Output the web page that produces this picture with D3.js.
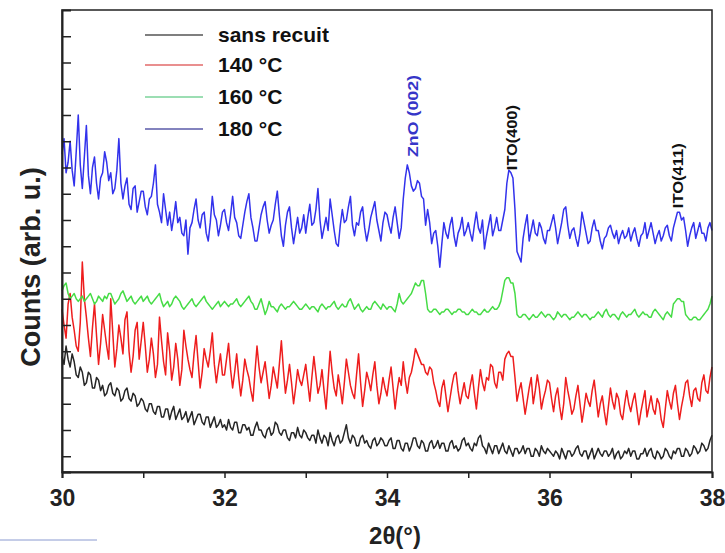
<!DOCTYPE html>
<html>
<head>
<meta charset="utf-8">
<script src="https://cdn.jsdelivr.net/npm/d3@7"></script>
<style>
  html, body { margin: 0; padding: 0; background: #fff; }
  svg { display: block; }
  text { font-family: "Liberation Sans", Arial, sans-serif; }
</style>
</head>
<body>
<svg id="chart" width="725" height="553"></svg>
<script>
// ---- data (2θ sampled every 0.025°, 30° .. 38°) ----
const xTicks = [30, 31, 32, 33, 34, 35, 36, 37, 38];
const xTickLabels = ["30", "", "32", "", "34", "", "36", "", "38"];
const yTicks = [10, 20, 30, 40, 50, 60, 70, 80, 90, 100, 110, 120, 130, 140, 150, 160, 170];
const seriesNames = ["sans recuit", "140 °C", "160 °C", "180 °C"];
const seriesColors = ["#262626", "#ee1d1d", "#46dc46", "#3232ec"];
const legendColors = ["#555555", "#e26a6a", "#7bd39a", "#5a5aa8"];

const countsSansRecuit = [
  48, 45, 52, 47, 44, 49, 46, 41, 40, 44, 42, 37, 38, 42, 41, 36, 36, 40, 39, 35,
  37, 33, 34, 37, 38, 34, 33, 36, 35, 31, 32, 35, 36, 32, 31, 34, 33, 29, 30, 32,
  31, 28, 27, 30, 30, 27, 26, 29, 29, 25, 25, 28, 28, 24, 27, 29, 24, 26, 28, 24,
  25, 27, 23, 25, 27, 22, 24, 26, 26, 23, 22, 25, 25, 21, 23, 25, 21, 22, 24, 21,
  22, 20, 24, 21, 20, 23, 23, 19, 19, 22, 22, 20, 21, 18, 18, 21, 23, 20, 20, 18,
  17, 20, 21, 18, 19, 23, 22, 19, 18, 20, 20, 17, 16, 19, 19, 17, 21, 18, 17, 20,
  19, 17, 16, 18, 18, 15, 20, 17, 15, 18, 17, 14, 19, 16, 14, 17, 18, 15, 16, 19,
  22, 17, 15, 18, 17, 14, 14, 17, 18, 15, 16, 14, 13, 16, 17, 14, 15, 17, 16, 14,
  14, 16, 17, 13, 13, 16, 16, 13, 12, 15, 15, 12, 14, 17, 17, 14, 13, 16, 15, 12,
  12, 15, 16, 13, 14, 16, 13, 15, 15, 12, 12, 15, 16, 13, 14, 12, 13, 16, 17, 14,
  15, 13, 12, 15, 14, 17, 18, 14, 13, 11, 15, 13, 11, 14, 14, 11, 13, 15, 12, 11,
  14, 12, 10, 13, 13, 11, 12, 14, 11, 13, 13, 10, 10, 13, 12, 10, 14, 12, 11, 13,
  12, 11, 10, 12, 11, 9, 13, 11, 9, 12, 12, 10, 11, 13, 14, 11, 10, 12, 12, 9,
  11, 13, 9, 11, 13, 11, 10, 12, 12, 10, 11, 13, 9, 11, 12, 9, 10, 12, 11, 13,
  10, 12, 12, 9, 9, 11, 11, 13, 10, 12, 13, 10, 9, 12, 11, 9, 10, 13, 12, 10,
  9, 12, 11, 13, 13, 10, 10, 13, 12, 10, 11, 14, 13, 11, 12, 15, 14, 12, 13, 16,
  18
];
const counts140 = [
  66, 60, 55, 68, 72, 63, 58, 52, 50, 61, 84, 70, 63, 55, 48, 59, 68, 56, 45, 53,
  64, 58, 52, 47, 70, 57, 44, 51, 60, 55, 49, 62, 65, 50, 42, 48, 58, 61, 47, 54,
  61, 52, 42, 47, 55, 49, 40, 45, 63, 54, 46, 41, 57, 50, 39, 44, 53, 47, 37, 43,
  58, 52, 47, 43, 40, 49, 56, 46, 36, 42, 51, 47, 44, 50, 57, 45, 38, 44, 49, 41,
  41, 47, 53, 43, 36, 42, 49, 40, 33, 39, 47, 43, 40, 35, 31, 42, 52, 44, 38, 42,
  46, 39, 32, 37, 44, 40, 36, 45, 54, 43, 34, 39, 45, 38, 30, 36, 43, 39, 37, 41,
  45, 38, 31, 40, 48, 41, 34, 37, 43, 35, 28, 39, 50, 42, 36, 33, 41, 36, 30, 38,
  47, 42, 37, 34, 32, 41, 49, 38, 29, 35, 42, 39, 35, 41, 46, 37, 30, 34, 40, 36,
  33, 39, 44, 36, 28, 35, 40, 37, 46, 39, 34, 40, 42, 46, 51, 49, 47, 45, 45, 42,
  41, 44, 43, 38, 35, 31, 29, 36, 39, 33, 27, 32, 37, 41, 42, 35, 30, 34, 38, 33,
  32, 37, 41, 34, 28, 36, 43, 38, 35, 40, 39, 45, 44, 38, 36, 42, 42, 39, 47, 49,
  50, 48, 48, 40, 31, 35, 38, 32, 26, 31, 36, 40, 30, 35, 41, 36, 28, 32, 35, 39,
  38, 32, 27, 33, 36, 29, 24, 30, 40, 35, 31, 26, 28, 33, 37, 30, 23, 28, 34, 31,
  29, 35, 39, 32, 25, 30, 33, 27, 22, 29, 36, 31, 28, 34, 32, 26, 24, 30, 35, 30,
  27, 31, 34, 28, 22, 27, 31, 35, 25, 29, 33, 28, 26, 32, 30, 24, 21, 28, 35, 31,
  28, 34, 37, 30, 24, 29, 33, 38, 39, 33, 29, 35, 36, 32, 31, 38, 41, 35, 34, 40,
  44
];
const counts160 = [
  73, 75, 76, 72, 70, 71, 72, 70, 69, 70, 71, 69, 70, 71, 72, 70, 68, 69, 71, 70,
  69, 71, 70, 72, 72, 70, 68, 69, 70, 72, 73, 71, 69, 70, 71, 69, 68, 69, 70, 71,
  69, 70, 71, 69, 68, 69, 70, 71, 72, 69, 67, 68, 69, 67, 68, 70, 71, 70, 69, 67,
  66, 67, 68, 69, 70, 68, 67, 68, 69, 70, 71, 69, 68, 67, 66, 67, 68, 69, 67, 68,
  69, 68, 67, 68, 68, 69, 70, 68, 67, 68, 69, 70, 71, 69, 68, 66, 66, 68, 70, 67,
  64, 66, 69, 67, 67, 66, 65, 67, 68, 67, 66, 67, 67, 68, 69, 68, 67, 66, 66, 67,
  68, 67, 66, 67, 67, 66, 65, 67, 68, 67, 66, 67, 67, 68, 69, 67, 66, 67, 68, 67,
  67, 69, 70, 68, 66, 67, 68, 66, 65, 66, 67, 66, 66, 68, 69, 68, 67, 66, 68, 67,
  66, 67, 67, 66, 65, 68, 72, 69, 68, 69, 70, 71, 72, 74, 76, 75, 75, 77, 77, 72,
  66, 65, 65, 66, 66, 65, 64, 65, 65, 66, 66, 65, 64, 65, 65, 66, 66, 65, 65, 64,
  64, 65, 66, 65, 65, 64, 64, 65, 66, 65, 65, 66, 67, 66, 66, 67, 69, 73, 77, 78,
  78, 76, 76, 72, 64, 63, 63, 64, 64, 63, 62, 63, 64, 63, 63, 64, 65, 64, 63, 64,
  64, 63, 62, 63, 65, 64, 63, 64, 64, 63, 62, 63, 63, 64, 65, 64, 63, 64, 64, 63,
  62, 63, 63, 64, 65, 64, 63, 65, 66, 64, 63, 64, 64, 63, 62, 64, 65, 64, 63, 64,
  64, 65, 66, 64, 63, 64, 65, 64, 64, 63, 63, 65, 66, 65, 64, 63, 62, 64, 65, 64,
  63, 68, 69, 70, 70, 69, 69, 64, 63, 62, 62, 63, 63, 62, 62, 63, 64, 65, 66, 68,
  71
];
const counts180 = [
  125, 131, 118, 122, 130, 119, 113, 126, 140, 121, 112, 124, 136, 117, 110, 120, 124, 114, 108, 116,
  118, 126, 122, 115, 118, 110, 112, 119, 131, 114, 108, 113, 116, 106, 104, 112, 113, 103, 107, 111,
  111, 105, 102, 108, 109, 114, 121, 106, 103, 99, 110, 104, 98, 103, 96, 101, 107, 99, 101, 95,
  94, 100, 87, 97, 99, 104, 108, 100, 97, 102, 103, 95, 92, 99, 109, 102, 100, 94, 98, 103,
  104, 99, 96, 102, 109, 101, 99, 94, 93, 98, 103, 107, 110, 101, 97, 92, 92, 97, 102, 105,
  107, 100, 95, 98, 100, 106, 111, 102, 94, 90, 98, 103, 105, 97, 91, 96, 101, 95, 97, 102,
  95, 101, 106, 98, 99, 104, 112, 100, 93, 97, 101, 96, 108, 102, 96, 91, 90, 98, 104, 99,
  100, 105, 109, 98, 94, 99, 98, 103, 105, 97, 92, 96, 101, 104, 107, 100, 96, 92, 99, 103,
  102, 98, 95, 101, 105, 99, 93, 97, 108, 116, 121, 118, 113, 111, 112, 115, 114, 109, 108, 98,
  104, 99, 91, 95, 96, 90, 82, 91, 99, 95, 93, 98, 101, 94, 90, 95, 97, 101, 94, 96,
  99, 95, 92, 98, 103, 97, 95, 100, 89, 94, 98, 102, 94, 97, 101, 96, 96, 100, 104, 114,
  119, 118, 116, 104, 88, 86, 84, 93, 98, 102, 92, 96, 100, 95, 94, 99, 97, 93, 91, 96,
  96, 99, 102, 97, 91, 95, 99, 104, 105, 98, 93, 96, 97, 93, 90, 95, 103, 99, 95, 91,
  92, 97, 100, 96, 96, 92, 89, 93, 94, 97, 98, 95, 93, 96, 91, 94, 96, 93, 94, 97,
  92, 95, 97, 93, 90, 94, 95, 99, 93, 96, 99, 95, 91, 94, 96, 92, 94, 97, 98, 94,
  92, 97, 100, 103, 103, 100, 101, 96, 90, 94, 97, 99, 93, 96, 99, 95, 95, 92, 97, 99,
  96
];
const allSeries = [countsSansRecuit, counts140, counts160, counts180];
const twoTheta = d3.range(counts180.length).map(i => 30 + i * 0.025);

const peakLabels = ["ZnO (002)", "ITO(400)", "ITO(411)"];
const peakPositions = [34.37, 35.52, 37.62];
const peakLabelBase = [124, 119, 104.5];
const peakLabelShift = [1, 6, 2];
const peakLabelLength = [82, 65, 65];
const peakLabelColors = ["#3636c8", "#111111", "#111111"];

// ---- layout ----
const svg = d3.select("#chart");
const L = 62, R = 712, T = 10, B = 472;
const x = d3.scaleLinear().domain([30, 38]).range([L, R]);
const y = d3.scaleLinear().domain([4, 180]).range([B, T]);

// series lines
const line = d3.line().x((d, i) => x(twoTheta[i])).y(d => y(d));
allSeries.forEach((s, k) => {
  svg.append("path")
    .datum(s)
    .attr("fill", "none")
    .attr("stroke", seriesColors[k])
    .attr("stroke-width", 1.5)
    .attr("stroke-linejoin", "round")
    .attr("d", line);
});

// frame
svg.append("rect").attr("x", L).attr("y", T).attr("width", R - L).attr("height", B - T)
  .attr("fill", "none").attr("stroke", "#222").attr("stroke-width", 1.5);

// x axis
const xAxis = d3.axisBottom(x).tickValues(xTicks)
  .tickFormat((d, i) => xTickLabels[i]).tickSize(6).tickPadding(12);
const gx = svg.append("g").attr("transform", `translate(0,${B})`).call(xAxis);
gx.select(".domain").attr("stroke", "#222").attr("stroke-width", 2);
gx.selectAll(".tick line").attr("stroke", "#222").attr("stroke-width", 1.5);
gx.selectAll(".tick text").attr("font-size", 23).attr("font-weight", "bold")
  .attr("fill", "#222").attr("font-family", "Liberation Sans, Arial, sans-serif");

// y axis (inward ticks, no labels)
const yAxis = d3.axisLeft(y).tickValues(yTicks).tickFormat("").tickSize(-9);
const gy = svg.append("g").attr("transform", `translate(${L},0)`).call(yAxis);
gy.select(".domain").attr("stroke", "#222").attr("stroke-width", 2);
gy.selectAll(".tick line").attr("stroke", "#222").attr("stroke-width", 1.5);

// axis titles
svg.append("text").attr("x", 395).attr("y", 544).attr("text-anchor", "middle")
  .attr("font-size", 24).attr("font-weight", "bold").attr("fill", "#222")
  .text("2θ(°)");
svg.append("text").attr("transform", "translate(40,267) rotate(-90)")
  .attr("text-anchor", "middle").attr("font-size", 27).attr("font-weight", "bold")
  .attr("fill", "#222").text("Counts (arb. u.)");

// legend
const legendRows = [35, 65, 97, 129];
seriesNames.forEach((n, k) => {
  svg.append("line").attr("x1", 145).attr("x2", 203)
    .attr("y1", legendRows[k]).attr("y2", legendRows[k])
    .attr("stroke", legendColors[k]).attr("stroke-width", 1.5);
  svg.append("text").attr("x", 218).attr("y", legendRows[k] + 7)
    .attr("font-size", 21).attr("font-weight", "bold").attr("fill", "#111")
    .text(n);
});

// peak annotations (rotated)
peakLabels.forEach((t, k) => {
  svg.append("text")
    .attr("transform", `translate(${x(peakPositions[k]) + peakLabelShift[k]},${y(peakLabelBase[k])}) rotate(-90)`)
    .attr("font-size", 14).attr("font-weight", "bold")
    .attr("fill", peakLabelColors[k])
    .attr("textLength", peakLabelLength[k]).attr("lengthAdjust", "spacingAndGlyphs")
    .text(t);
});

// small decorative line at bottom-left seen in the original image
svg.append("line").attr("x1", 0).attr("x2", 97).attr("y1", 540).attr("y2", 540)
  .attr("stroke", "#8a9ad0").attr("stroke-width", 1);
</script>
</body>
</html>
